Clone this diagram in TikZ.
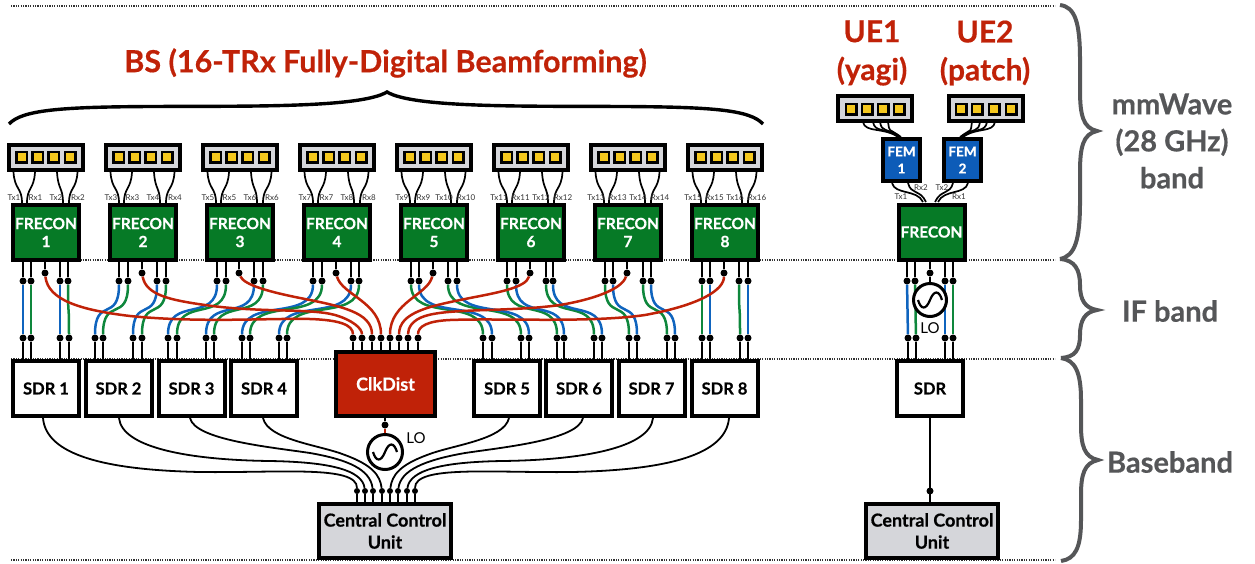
\documentclass[tikz,border=0pt]{standalone}
\usepackage{fontspec}
\setmainfont{Lato}[BoldFeatures={FakeBold=0.5}]
\definecolor{frgreen}{RGB}{6,122,38}
\definecolor{femblue}{RGB}{13,92,184}
\definecolor{clkred}{RGB}{192,34,8}
\definecolor{panelgray}{RGB}{213,214,218}
\definecolor{patchyellow}{RGB}{245,200,30}
\definecolor{sigblue}{RGB}{15,100,190}
\definecolor{siggreen}{RGB}{14,135,60}
\definecolor{siggray}{RGB}{85,86,88}
\tikzset{
  boxbase/.style={draw=black,line width=4pt,rectangle,inner sep=0pt,align=center,font=\bfseries},
  frecon/.style={boxbase,fill=frgreen,text=white,minimum width=66pt,minimum height=55pt,font=\bfseries\fontsize{15.5}{18}\selectfont},
  fem/.style={boxbase,fill=femblue,text=white,minimum width=37pt,minimum height=42pt,font=\bfseries\fontsize{13.5}{17}\selectfont},
  sdr/.style={boxbase,fill=white,minimum width=66pt,minimum height=55pt,font=\bfseries\fontsize{16.5}{20}\selectfont},
  clk/.style={boxbase,fill=clkred,text=white,minimum width=99pt,minimum height=64pt,font=\bfseries\fontsize{18}{20}\selectfont},
  ccu/.style={boxbase,fill=panelgray,minimum width=132pt,minimum height=54pt,font=\bfseries\fontsize{18}{22}\selectfont},
  antenna/.style={boxbase,fill=panelgray,minimum width=74pt,minimum height=25pt},
  patch/.style={draw=black,line width=2.5pt,fill=patchyellow,rectangle,minimum size=10.5pt,inner sep=0pt},
  osc/.style={circle,draw=black,line width=3pt,fill=white,inner sep=0pt},
  sinewave/.style={line width=2.2pt,black},
  dotp/.style={circle,fill=black,inner sep=0pt,minimum size=7pt},
  sep/.style={line width=1.2pt,black!80,dash pattern=on 1.2pt off 1.2pt},
  feed/.style={line width=1.7pt,black},
  stub/.style={line width=1.7pt,black},
  sig/.style={line width=2.5pt},
  redsig/.style={line width=2.5pt,clkred},
  ctl/.style={line width=1.8pt,black},
  graybrace/.style={line width=4pt,siggray,line join=miter},
  topbrace/.style={line width=3.4pt,black,line join=miter},
  lab/.style={font=\fontsize{8}{9}\selectfont,text=black!80,inner sep=0pt},
  lolab/.style={font=\fontsize{15}{16}\selectfont,inner sep=0pt},
  redtitle/.style={font=\bfseries\fontsize{30.5}{34}\selectfont,text=clkred,inner sep=0pt},
  ue/.style={font=\bfseries\fontsize{30}{38}\selectfont,text=clkred,inner sep=0pt,align=center},
  bandlab/.style={font=\bfseries\fontsize{29}{37}\selectfont,text=siggray,inner sep=0pt,align=center},
}
\begin{document}
\begin{tikzpicture}[x=1pt,y=-1pt]
\useasboundingbox (0,0) rectangle (1255,563);
% dotted band separators
\foreach \n/\yy in {a/6,b/260,c/359,d/560}{
  \coordinate (sl\n) at (11,\yy);
  \coordinate (sr\n) at (1055,\yy);
  \draw[sep] (sl\n) -- (sr\n);
}
% titles
\node[redtitle] (bstitle) at (385.5,63) {BS (16-TRx Fully-Digital Beamforming)};
\node[ue] (ue1) at (872,53) {UE1\\(yagi)};
\node[ue] (ue2) at (985,53) {UE2\\(patch)};
% top brace
\coordinate (bl) at (9,124);\coordinate (bp) at (387,92);\coordinate (br) at (763,124);
\draw[topbrace] (bl) .. controls (22,110) and (60,107) .. (150,106.5)
  .. controls (250,106) and (360,108) .. (bp)
  .. controls (414,108) and (524,106) .. (624,106.5)
  .. controls (714,107) and (750,110) .. (br);
% right braces
\coordinate (g0) at (1060,5);\coordinate (g1) at (1097,131);\coordinate (g2) at (1060,259);
\coordinate (g3) at (1097,310);\coordinate (g4) at (1061,358);\coordinate (g5) at (1098,460);\coordinate (g6) at (1061,561);
\draw[graybrace] (g0) .. controls (1075,7) and (1080,22) .. (1080,60) -- (1080,90) .. controls (1080,115) and (1083,128) .. (g1)
  .. controls (1083,134) and (1080,147) .. (1080,172) -- (1080,202) .. controls (1080,240) and (1075,256) .. (g2);
\draw[graybrace] (g2) .. controls (1075,260) and (1080,270) .. (1080,285) .. controls (1080,300) and (1085,308) .. (g3)
  .. controls (1085,312) and (1080,320) .. (1080,335) .. controls (1080,350) and (1075,357) .. (g4);
\draw[graybrace] (g4) .. controls (1075,360) and (1081,372) .. (1081,400) -- (1081,425) .. controls (1081,445) and (1084,457) .. (g5)
  .. controls (1084,463) and (1081,475) .. (1081,495) -- (1081,520) .. controls (1081,548) and (1075,559) .. (g6);
\node[bandlab] (b1) at (1172,141) {mmWave\\(28 GHz)\\band};
\node[bandlab] (b2) at (1170,311) {IF band};
\node[bandlab] (b3) at (1170,462) {Baseband};

% BS antennas & FRECON
\foreach \i/\c in {1/46,2/143,3/240,4/337,5/434,6/531,7/628,8/725}{
  \node[antenna] (A\i) at (\c,157.5) {};
  \foreach \k/\o in {1/-24.5,2/-8.5,3/7.5,4/24}{
    \node[patch] (A\i P\k) at (\c+\o,157) {};
  }
  \node[frecon] (F\i) at (\c,232.5) {FRECON\\\i};
  \coordinate (fa\i) at (\c-32.5,172);
  \coordinate (fb\i) at (\c-11,172);
  \coordinate (fc\i) at (\c+11,172);
  \coordinate (fd\i) at (\c+31.5,172);
  \coordinate (ga\i) at (\c-24,203);
  \coordinate (gb\i) at (\c-19,203);
  \coordinate (gc\i) at (\c+17,203);
  \coordinate (gd\i) at (\c+23,203);
  \draw[feed] (fa\i) .. controls +(1,18) and +(0,-16) .. (ga\i);
  \draw[feed] (fb\i) .. controls +(-1,18) and +(0,-16) .. (gb\i);
  \draw[feed] (fc\i) .. controls +(1,18) and +(0,-16) .. (gc\i);
  \draw[feed] (fd\i) .. controls +(-1,18) and +(0,-16) .. (gd\i);
  \coordinate (fm\i) at (\c-1,273);
  \node[dotp] (fmd\i) at (fm\i) {};
  \draw[stub] (fmd\i) -- (fmd\i |- F\i.south);
}
% Tx/Rx labels
\foreach \i/\c/\ta/\ra/\tb/\rb in {1/46/Tx1/Rx1/Tx2/Rx2,2/143/Tx3/Rx3/Tx4/Rx4,3/240/Tx5/Rx5/Tx6/Rx6,4/337/Tx7/Rx7/Tx8/Rx8,5/434/Tx9/Rx9/Tx10/Rx10,6/531/Tx11/Rx11/Tx12/Rx12,7/628/Tx13/Rx13/Tx14/Rx14,8/725/Tx15/Rx15/Tx16/Rx16}{
  \node[lab] (LA\i) at (\c-32,198) {\ta};
  \node[lab] (LB\i) at (\c-10.5,198) {\ra};
  \node[lab] (LC\i) at (\c+10,198) {\tb};
  \node[lab] (LD\i) at (\c+32,198) {\rb};
}
% SDR boxes
\foreach \i/\c in {1/46,2/118.5,3/191.5,4/264,5/507,6/579,7/651.5,8/724.5}{
  \node[sdr] (S\i) at (\c,388.5) {SDR \i};
}
\node[clk] (clkd) at (385.5,384) {ClkDist};
\node[ccu] (ccua) at (385,531) {Central Control\\Unit};

% FRECON ports (upper) and SDR ports (lower)
\foreach \n/\x in {1a/23,1b/31,1c/60,1d/68,2a/119,2b/128,2c/157,2d/166,3a/217,3b/226,3c/254,3d/263,4a/313,4b/322,4c/351,4d/359,5a/411,5b/419,5c/448,5d/457,6a/507,6b/516,6c/546,6d/553,7a/605,7b/613,7c/643,7d/651,8a/702,8b/710,8c/739,8d/748}{
  \node[dotp] (u\n) at (\x,281) {};
}
\foreach \n/\x in {1a/23,1b/31,1c/60,1d/69,2a/95,2b/103,2c/133,2d/142,3a/168,3b/177,3c/206,3d/214,4a/242,4b/250,4c/279,4d/287,5a/483,5b/492,5c/521,5d/529,6a/557,6b/564,6c/594,6d/602,7a/629,7b/637,7c/667,7d/675,8a/702,8b/710,8c/740,8d/748}{
  \node[dotp] (l\n) at (\x,338) {};
}
\foreach \i in {1,...,8}{
  \foreach \k in {a,b,c,d}{
    \draw[stub] (u\i\k) -- (u\i\k |- F\i.south);
    \draw[stub] (l\i\k) -- (l\i\k |- S\i.north);
  }
}
% IF signal lines
\foreach \a/\cc in {1a/sigblue,1b/siggreen,1c/sigblue,1d/siggreen,2a/sigblue,2b/siggreen,2c/sigblue,2d/siggreen,3a/sigblue,3b/siggreen,3c/sigblue,3d/siggreen,4a/sigblue,4b/siggreen,4c/sigblue,4d/siggreen,5a/siggreen,5b/sigblue,5c/siggreen,5d/sigblue,6a/siggreen,6b/sigblue,6c/siggreen,6d/sigblue,7a/siggreen,7b/sigblue,7c/siggreen,7d/sigblue,8a/siggreen,8b/sigblue,8c/siggreen,8d/sigblue}{
  \draw[sig,\cc] (u\a) .. controls +(0,42) and +(0,-42) .. (l\a);
}
% ClkDist ports
\foreach \i/\x in {1/353,2/362,3/372,4/381,5/390,6/399,7/408,8/418}{
  \node[dotp] (k\i) at (\x,338) {};
  \draw[stub] (k\i) -- (k\i |- clkd.north);
}
% red clock lines
\draw[redsig] (fmd1) .. controls (48,300) and (80,310) .. (130,316) .. controls (200,323) and (270,318) .. (310,319) .. controls (340,320) and (353,325) .. (k1);
\draw[redsig] (fmd2) .. controls (146,295) and (170,300) .. (205,305) .. controls (260,313) and (310,308) .. (335,315) .. controls (352,320) and (362,328) .. (k2);
\draw[redsig] (fmd3) .. controls (244,285) and (270,292) .. (300,298) .. controls (340,306) and (372,312) .. (k3);
\draw[redsig] (fmd4) .. controls (342,295) and (381,302) .. (k4);
\draw[redsig] (fmd5) .. controls (428,295) and (390,302) .. (k5);
\draw[redsig] (fmd6) .. controls (526,288) and (495,293) .. (470,298) .. controls (430,306) and (399,312) .. (k6);
\draw[redsig] (fmd7) .. controls (622,290) and (590,300) .. (560,305) .. controls (510,312) and (450,308) .. (425,316) .. controls (412,320) and (408,328) .. (k7);
\draw[redsig] (fmd8) .. controls (724,290) and (700,305) .. (645,315) .. controls (590,323) and (500,318) .. (450,320) .. controls (428,321) and (418,326) .. (k8);

% LO under ClkDist
\node[osc,minimum size=35pt] (osca) at (385,452) {};
\node[dotp] (oscd) at (385,425) {};
\draw[stub] (oscd) -- (oscd |- clkd.south);
\draw[redsig] (oscd) -- (osca);
\draw[sinewave,shift={(osca.center)}] (-12,0) .. controls (-9,10) and (-4,10) .. (0,0) .. controls (4,-10) and (9,-10) .. (12,0);
\node[lolab] (loa) at (416,438.5) {LO};

% CCU dots
\foreach \i/\x in {1/357,2/365,3/373,4/382,5/390,6/398,7/407,8/415}{
  \node[dotp,minimum size=6pt] (c\i) at (\x,491) {};
  \draw[stub] (c\i) -- (c\i |- ccua.north);
}
\coordinate (s1o) at (43,418);\coordinate (s2o) at (119,418);\coordinate (s3o) at (190,418);\coordinate (s4o) at (263,418);
\coordinate (s5o) at (509,418);\coordinate (s6o) at (583,418);\coordinate (s7o) at (653,418);\coordinate (s8o) at (729,418);
\draw[ctl] (s1o) .. controls (46,455) and (105,470) .. (200,472) .. controls (280,473) and (357,465) .. (c1);
\draw[ctl] (s2o) .. controls (122,448) and (190,460) .. (270,461) .. controls (330,462) and (362,470) .. (c2);
\draw[ctl] (s3o) .. controls (195,440) and (270,447) .. (310,453) .. controls (350,460) and (370,470) .. (c3);
\draw[ctl] (s4o) .. controls (268,440) and (320,445) .. (345,455) .. controls (372,465) and (380,475) .. (c4);
\draw[ctl] (s5o) .. controls (504,440) and (452,445) .. (427,455) .. controls (400,465) and (392,475) .. (c5);
\draw[ctl] (s6o) .. controls (578,440) and (505,447) .. (465,453) .. controls (425,460) and (401,470) .. (c6);
\draw[ctl] (s7o) .. controls (650,448) and (582,460) .. (502,461) .. controls (442,462) and (410,470) .. (c7);
\draw[ctl] (s8o) .. controls (726,455) and (667,470) .. (572,472) .. controls (492,473) and (415,465) .. (c8);

% UE side
\foreach \n/\c in {1/875,2/985.5}{
  \node[antenna] (UA\n) at (\c,108.5) {};
}
\foreach \n/\x in {1/851,2/867,3/883,4/899}{\node[patch] (UAa\n) at (\x,109) {};}
\foreach \n/\x in {1/961,2/977,3/994,4/1011}{\node[patch] (UAb\n) at (\x,109) {};}
\node[fem] (fem1) at (901.5,160) {FEM\\1};
\node[fem] (fem2) at (962.5,160) {FEM\\2};
\node[frecon] (FR) at (931.5,232) {FRECON};
\node[sdr] (SD) at (930,388.5) {SDR};
\node[ccu] (ccub) at (932,531) {Central Control\\Unit};
% antenna to FEM
\foreach \k/\x/\t in {1/863/898,2/873/899,3/880/900,4/888/901}{
  \coordinate (ua\k) at (\x,122);\coordinate (ue\k) at (\t,137);
  \draw[feed] (ua\k) .. controls +(2,11) and +(-14,-10) .. (ue\k);
}
\foreach \k/\x/\t in {1/995/963,2/987/962,3/980/961,4/972/960}{
  \coordinate (va\k) at (\x,122);\coordinate (ve\k) at (\t,137);
  \draw[feed] (va\k) .. controls +(-2,11) and +(14,-10) .. (ve\k);
}
% FEM to FRECON
\foreach \n/\x/\t in {1/892/923,2/908/926}{
  \coordinate (fea\n) at (\x,183);\coordinate (feb\n) at (\t,202);
  \draw[feed] (fea\n) .. controls +(3,12) and +(-6,-13) .. (feb\n);
}
\foreach \n/\x/\t in {1/953/935,2/968/938}{
  \coordinate (fec\n) at (\x,183);\coordinate (fed\n) at (\t,202);
  \draw[feed] (fec\n) .. controls +(-3,12) and +(6,-13) .. (fed\n);
}
\node[lab] (ltx1) at (901,197) {Tx1};
\node[lab] (lrx2) at (921,188) {Rx2};
\node[lab] (ltx2) at (942,188) {Tx2};
\node[lab] (lrx1) at (959,197) {Rx1};
% UE IF lines
\foreach \n/\x/\xx/\cc in {a/907/908/sigblue,b/915/916/siggreen,c/945/945/sigblue,d/953/953/siggreen}{
  \node[dotp] (uu\n) at (\x,281) {};
  \node[dotp] (ul\n) at (\xx,338) {};
  \draw[stub] (uu\n) -- (uu\n |- FR.south);
  \draw[stub] (ul\n) -- (ul\n |- SD.north);
  \draw[sig,\cc] (uu\n) -- (ul\n);
}
\node[dotp] (um) at (930,273) {};
\draw[stub] (um) -- (um |- FR.south);
\node[osc,minimum size=33pt] (oscb) at (930,300) {};
\draw[stub] (um) -- (oscb);
\draw[sinewave,shift={(oscb.center)}] (-12,0) .. controls (-9,10) and (-4,10) .. (0,0) .. controls (4,-10) and (9,-10) .. (12,0);
\node[lolab] (lob) at (930,328) {LO};
% SDR to CCU
\node[dotp] (cb) at (930,491) {};
\draw[ctl] (SD) -- (SD |- ccub.north);
\end{tikzpicture}
\end{document}
